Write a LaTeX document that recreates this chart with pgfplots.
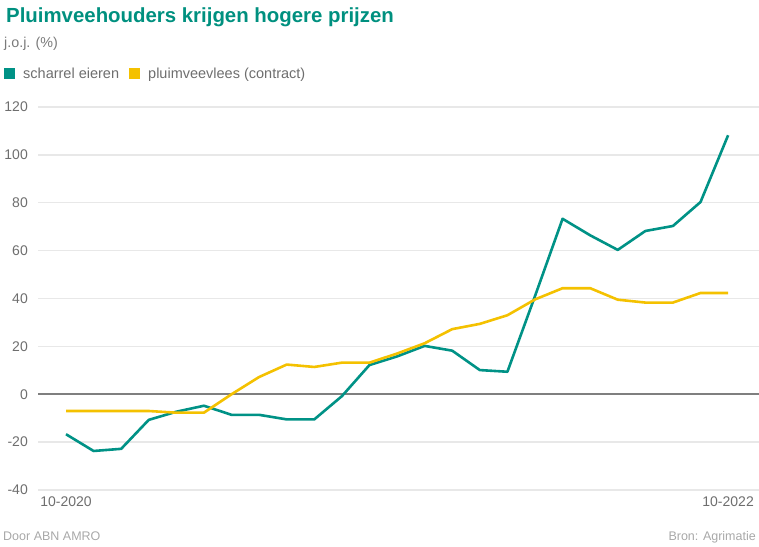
\documentclass[border=0pt]{standalone}
\usepackage{fontspec}
\setmainfont{Liberation Sans}
\usepackage{pgfplots}
\pgfplotsset{compat=1.18}

\definecolor{teal}{HTML}{009286}
\definecolor{geel}{HTML}{F4C100}
\definecolor{titel}{HTML}{00907F}
\definecolor{tick}{HTML}{6E6E6E}
\definecolor{sub}{HTML}{7A7A7A}
\definecolor{voet}{HTML}{A8A8A8}
\definecolor{grid}{HTML}{E8E8E8}
\definecolor{nul}{HTML}{7F7F7F}

\pgfplotstableread{
i  eieren  vlees
0  -16.7   -7.0
1  -23.7   -7.0
2  -22.8   -7.0
3  -10.7   -7.0
4   -7.3   -7.7
5   -4.8   -7.7
6   -8.6    0.0
7   -8.6    7.2
8  -10.5   12.4
9  -10.5   11.4
10  -0.8   13.2
11  12.2   13.2
12  15.8   17.0
13  20.2   21.3
14  18.2   27.2
15  10.1   29.4
16   9.4   33.0
17  41.0   39.6
18  73.3   44.3
19  66.4   44.3
20  60.3   39.5
21  68.2   38.3
22  70.3   38.3
23  80.3   42.3
24 108.2   42.3
}\data

\begin{document}
\begin{tikzpicture}[x=1pt,y=1pt]
\useasboundingbox (0,0) rectangle (759,546);

% titel en ondertitel
\node[anchor=base west,inner sep=0pt,text=titel,font=\fontsize{20.4}{24}\selectfont\bfseries] at (6,523) {Pluimveehouders krijgen hogere prijzen};
\node[anchor=base west,inner sep=0pt,text=sub,font=\fontsize{14.3}{16}\selectfont] at (4,498) {j.o.j. (\%)};

% legenda
\fill[teal] (4,467) rectangle (15,478);
\node[anchor=base west,inner sep=0pt,text=tick,font=\fontsize{14.5}{16}\selectfont] at (23,467) {scharrel eieren};
\fill[geel] (129,467) rectangle (140,478);
\node[anchor=base west,inner sep=0pt,text=tick,font=\fontsize{14.5}{16}\selectfont] at (148,467) {pluimveevlees (contract)};

\begin{axis}[
  at={(38pt,56pt)}, anchor=south west,
  width=721pt, height=383pt, scale only axis,
  xmin=-1.015, xmax=25.12,
  ymin=-40, ymax=120,
  axis line style={draw=none},
  major tick length=0pt,
  ytick={-40,-20,...,120},
  xtick={0,24}, xticklabels={10-2020,10-2022},
  ymajorgrids,
  grid style={color=grid, line width=1.4pt},
  extra y ticks={0}, extra y tick labels={},
  extra y tick style={grid style={color=nul, line width=1.6pt}},
  /pgf/number format/assume math mode=true,
  tick label style={font=\fontsize{14}{16}\selectfont, text=tick},
  yticklabel style={anchor=east, inner sep=0pt, xshift=-10pt},
  xticklabel style={anchor=north, inner sep=0pt, yshift=-7pt},
  clip=false,
]
\addplot[teal, line width=2.6pt, line join=round] table[x=i, y=eieren] {\data};
\addplot[geel, line width=2.6pt, line join=round] table[x=i, y=vlees] {\data};
\end{axis}

% voetregel
\node[anchor=base west,inner sep=0pt,text=voet,font=\fontsize{12.5}{14}\selectfont] at (3,6) {Door ABN AMRO};
\node[anchor=base east,inner sep=0pt,text=voet,font=\fontsize{12.5}{14}\selectfont] at (756,6) {Bron: Agrimatie};
\end{tikzpicture}
\end{document}
